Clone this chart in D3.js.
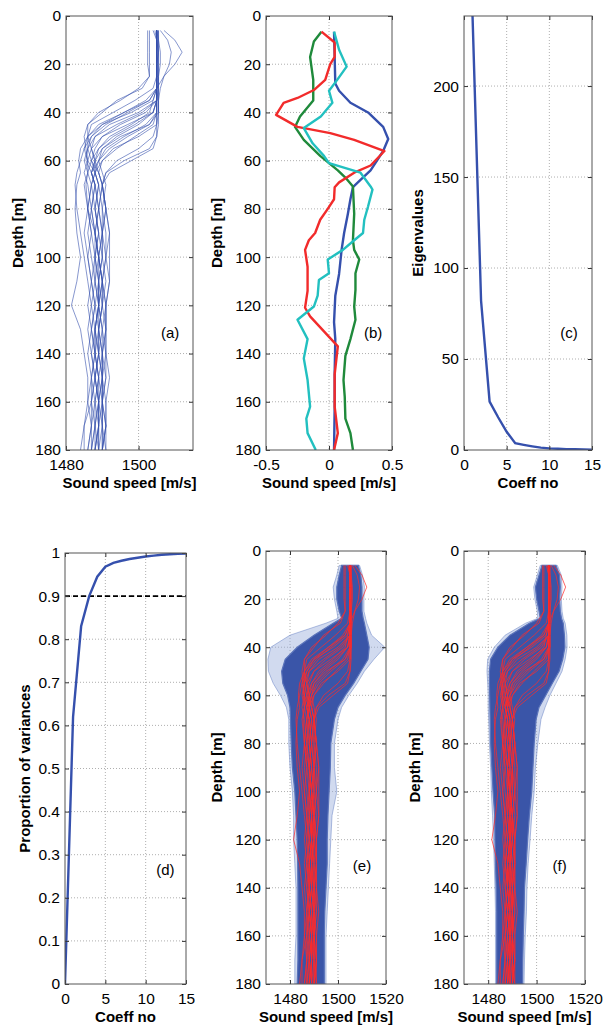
<!DOCTYPE html>
<html>
<head>
<meta charset="utf-8">
<title>Sound speed profiles, EOFs and eigenvalues</title>
<script src="https://cdn.jsdelivr.net/npm/d3@7"></script>
<style>
  body { margin: 0; background: #fff; }
  svg text { font-family: "Liberation Sans", Arial, sans-serif; fill: #000; }
</style>
</head>
<body>
<script>
// ---- data ----
// (a) measured profiles, speed [m/s] at depthA
var depthA = [6,10,15,20,25,30,35,40,45,50,55,60,65,70,80,90,100,110,120,130,140,150,160,170,180];
var profilesA = [
  [1503,1503,1503,1503,1503,1501,1494,1490,1486,1485,1485.5,1486,1485,1486,1487,1486,1487,1488,1487,1488,1487,1488,1487,1488,1487],
  [1505,1505,1505,1505,1505,1504,1499,1493,1487,1486,1486,1485.5,1487,1488,1489,1488,1489,1489,1488,1489,1489,1488,1489,1489,1488],
  [1507,1510,1512,1510,1507,1505,1505,1504,1497,1490,1488,1487,1489,1490,1491,1490,1491,1490,1491,1490,1491,1491,1490,1491,1490],
  [1505,1505,1505.5,1505,1505,1505,1505,1500,1492,1488,1487,1488,1487,1488,1487,1488,1489,1488,1489,1488,1489,1488,1489,1488,1489],
  [1505,1505,1505,1505,1505,1505,1505,1505,1503,1495,1490,1488,1489,1490,1489,1490,1489,1490,1490,1489,1490,1490,1489,1490,1490],
  [1505.5,1505.5,1505.5,1505.5,1505.5,1505.5,1505.5,1505.5,1505.5,1505,1503,1496,1491,1490,1491,1490,1490,1491,1490,1491,1491,1490,1491,1491,1490],
  [1505,1505,1505,1505,1505,1505,1504,1498,1490,1486,1484,1483.5,1484,1483,1482.5,1483,1484,1483,1481.5,1484,1485,1486,1486,1485,1485],
  [1505,1505,1505,1505,1505,1505,1503,1496,1489,1486,1485,1486,1488,1487,1486,1485,1486,1487,1488,1487,1488,1487,1488,1488,1487],
  [1504.5,1505,1505,1505,1505,1505,1505,1502,1495,1490,1487,1486,1486,1487,1488,1489,1488,1488,1489,1488,1488,1489,1488,1489,1488],
  [1505,1505,1505,1505,1505,1505,1505,1504,1499,1493,1489,1487,1486,1485,1486,1487,1488,1489,1490,1489,1490,1490,1490,1490,1490],
  [1505.5,1505.5,1505.5,1505.5,1505.5,1505.5,1505,1505,1504,1499,1494,1490,1488,1489,1488,1489,1488,1489,1489,1488,1489,1488,1489,1489,1488],
  [1505,1505,1505,1505,1505,1505,1504,1503,1498,1492,1489,1488,1488,1489,1490,1491,1491,1492,1491,1491,1491,1492,1491,1491,1491],
  [1504,1505,1505,1505,1505,1505,1505,1505,1505,1505,1504,1498,1492,1490,1491,1492,1492,1492,1491,1491,1490,1490,1490,1491,1490],
  [1506,1508,1509,1508.5,1507,1506,1505.5,1505.5,1503,1497,1492,1489,1487,1488,1489,1488,1489,1490,1489,1489,1488,1489,1489,1488,1488],
  [1505,1505,1505,1505,1505,1505,1505,1501,1494,1488,1486,1485,1486,1485.5,1486,1487,1486,1487,1486,1487,1486,1487,1486,1487,1486],
  [1505,1505,1505,1505,1505,1505,1505,1505,1502,1496,1491,1489,1488,1487,1486,1488,1489,1490,1489,1490,1489,1490,1490,1489,1489],
  [1505,1505,1505,1505,1505,1505,1503,1497,1491,1487,1485,1484,1483,1482.5,1483,1484,1485,1486,1487,1486,1487,1488,1487,1487,1486],
  [1505,1505,1505,1505,1505,1505,1505,1505,1505,1504,1500,1494,1491,1490,1491,1492,1491,1490,1491,1491,1490,1491,1490,1490,1491],
  [1502.5,1502.5,1502.5,1502.5,1503,1500,1495,1489,1486,1486,1487,1488,1487,1488,1487,1488,1488,1487,1488,1487,1488,1487,1487,1485,1484],
  [1505,1505,1505,1505,1505,1505,1505,1504,1500,1494,1490,1489,1490,1491,1490,1490,1489,1490,1490,1489,1489,1490,1489,1489,1489],
  [1505,1505.5,1506,1506,1505.5,1505.5,1505.5,1505.5,1505,1500,1493,1490,1489,1490,1489,1490,1490,1489,1489,1490,1490,1489,1490,1490,1489],
  [1505,1505,1505,1505,1505,1505,1502,1496,1490,1487,1486,1487,1488,1489,1488,1489,1490,1489,1489,1488,1488,1489,1488,1487,1487]
];

// (b) first four EOFs, [depth, value]
var eof1 = [[6.5,0.04],[28,0.05],[31,0.08],[36,0.17],[40,0.31],[46,0.43],[51,0.47],[56,0.43],[64,0.33],[68,0.25],[71,0.19],[76,0.17],[82,0.15],[90,0.12],[97,0.1],[107,0.08],[116,0.05],[127,0.04],[134,0.05],[148,0.045],[162,0.045],[180,0.04]];
var eof2 = [[6.5,-0.06],[11,0.045],[17,0.045],[20,0.01],[26.5,-0.03],[30.7,-0.12],[34,-0.25],[36,-0.36],[41,-0.42],[46,-0.25],[48.6,0.01],[51.4,0.2],[56,0.44],[62,0.33],[65,0.2],[69,0.08],[71,0.045],[76,0.04],[80,-0.01],[84.5,-0.07],[90,-0.11],[93,-0.16],[97,-0.19],[104,-0.17],[114,-0.17],[121,-0.19],[124.6,-0.15],[130.8,-0.04],[137,0.07],[148.6,0.045],[162,0.045],[173,0.07],[180,0.04]];
var eof3 = [[6.5,-0.06],[10.6,-0.12],[17,-0.15],[26.5,-0.125],[35,-0.125],[41.7,-0.23],[46,-0.27],[51.4,-0.2],[58,-0.07],[64,0.07],[67,0.13],[70.7,0.19],[82,0.2],[93,0.19],[97,0.2],[101,0.24],[106.7,0.21],[113.6,0.21],[120.5,0.2],[126,0.21],[134,0.17],[141,0.13],[151,0.115],[158,0.125],[167,0.13],[173,0.17],[180,0.19]];
var eof4 = [[6.5,0.04],[14,0.08],[21,0.14],[26.5,0.065],[31,0.0],[36,0.027],[41.7,-0.065],[46.5,-0.2],[52.8,-0.13],[58,-0.04],[61,0.0],[65,0.25],[70.7,0.33],[72,0.345],[79,0.31],[84.5,0.28],[90,0.27],[93,0.2],[97,0.11],[101,-0.01],[106.7,0.0],[109.5,-0.08],[116,-0.09],[120.5,-0.12],[126,-0.25],[134,-0.17],[142,-0.2],[151,-0.17],[162,-0.15],[167,-0.18],[173,-0.17],[180,-0.105]];
var eofColors = ["#3550ad", "#1f8a3b", "#f22b2b", "#22c0c0"];

// (c) eigenvalues, (d) cumulative proportion
var coeffC = [1,2,3,4,5,6,7,8,9,10,11,12,13,14,15];
var eigenvalues = [238.5,82,26.6,18,10,3.7,2.8,2.0,1.3,0.9,0.7,0.5,0.4,0.3,0.2];
var coeffD = [0,1,2,3,4,5,6,7,8,9,10,11,12,13,14,15];
var cumVariance = [0,0.62,0.83,0.9,0.945,0.968,0.977,0.982,0.986,0.989,0.992,0.994,0.996,0.997,0.998,0.999];
var threshold = 0.9;

// (e),(f) simulated ensembles: envelope of the dense band
var envDepth = [6,10,15,20,25,28,30,35,40,45,50,55,60,65,70,80,90,100,110,120,130,140,150,160,170,180];
var eOuterL = [1500.5,1499.5,1498,1498.5,1499.5,1500,1495,1480,1472,1470.8,1471,1473,1476,1478.5,1479.5,1479.5,1480,1481,1481.5,1481.5,1482,1482.5,1482.5,1482.5,1482,1482];
var eInnerL = [1501.5,1500.5,1499.5,1499.5,1500.5,1501.5,1498,1490,1483,1478,1476.5,1477,1479,1480,1480.2,1480.5,1481,1482,1482.5,1483,1483.2,1483.3,1483.3,1483.3,1483.3,1483];
var eInnerR = [1508.5,1509.5,1510,1510,1510,1510.5,1511,1512,1513,1512.5,1509.5,1506.5,1503,1500,1498.5,1497,1496.8,1496.3,1495.8,1495.5,1495.5,1495,1494.5,1494.3,1494.3,1494.3];
var eOuterR = [1509,1510.2,1511,1510.8,1510.8,1511.5,1512,1514,1519.5,1515,1511,1508,1504.5,1501.5,1500,1498.5,1498.5,1499.5,1497.5,1497,1496.5,1496,1495.5,1495,1495,1495];
var fOuterL = [1501.5,1500.3,1498.8,1499.3,1500.3,1500.5,1495.5,1487,1482.5,1479.8,1479.5,1479.8,1480,1480,1480.2,1480.5,1481,1481.3,1481.8,1482.2,1482.5,1482.8,1483,1483,1483,1483];
var fInnerL = [1502.2,1501,1499.5,1500,1501,1501.5,1497,1489,1484,1481,1480.5,1480.5,1480.6,1480.7,1480.8,1481,1481.5,1482,1482.7,1482.8,1483,1483.3,1483.5,1483.5,1483.5,1483.5];
var fInnerR = [1508,1509.5,1509.8,1509.5,1509.8,1510.3,1511,1511.5,1511.7,1510.8,1509.3,1506.5,1503.8,1501,1499.8,1499,1498.5,1498,1497,1496.3,1495.7,1495,1494.8,1494.5,1494.3,1494.2];
var fOuterR = [1508.6,1510.2,1510.5,1510.2,1510.5,1511,1511.8,1512.5,1512.6,1511.8,1510.5,1508,1505.5,1503.5,1501.8,1500.5,1499.5,1499,1498,1497.3,1496.5,1496,1495.8,1495.3,1495,1494.8];

var depthTicks = d3.range(0, 181, 20);

// ---- drawing ----
var W = 603, H = 1028;
var svg = d3.select("body").append("svg").attr("width", W).attr("height", H);
svg.append("rect").attr("width", W).attr("height", H).attr("fill", "#fff");

function panel(id, c) {
  var x = d3.scaleLinear().domain(c.xd).range([c.x0, c.x1]);
  var y = d3.scaleLinear().domain(c.yd).range(c.down ? [c.y0, c.y1] : [c.y1, c.y0]);
  var g = svg.append("g").attr("class", "panel-" + id);

  svg.append("clipPath").attr("id", "clip-" + id).append("rect")
    .attr("x", c.x0).attr("y", c.y0).attr("width", c.x1 - c.x0).attr("height", c.y1 - c.y0);

  // dotted grid
  g.selectAll(".vg").data(c.xt.filter(function(v){ return x(v) > c.x0 + 1 && x(v) < c.x1 - 1; }))
    .join("line").attr("x1", x).attr("x2", x).attr("y1", c.y0).attr("y2", c.y1)
    .attr("stroke", "#9a9a9a").attr("stroke-width", 0.8).attr("stroke-dasharray", "1,2");
  g.selectAll(".hg").data(c.yt.filter(function(v){ return y(v) > c.y0 + 1 && y(v) < c.y1 - 1; }))
    .join("line").attr("y1", y).attr("y2", y).attr("x1", c.x0).attr("x2", c.x1)
    .attr("stroke", "#9a9a9a").attr("stroke-width", 0.8).attr("stroke-dasharray", "1,2");

  var plot = g.append("g").attr("clip-path", "url(#clip-" + id + ")");

  function finish() {
    var fmtX = c.fx || function(d){ return d; };
    var fmtY = c.fy || function(d){ return d; };
    var ax = [
      g.append("g").attr("transform", "translate(0," + c.y1 + ")")
        .call(d3.axisBottom(x).tickValues(c.xt).tickSize(-4).tickPadding(9).tickFormat(fmtX)),
      g.append("g").attr("transform", "translate(" + c.x0 + ",0)")
        .call(d3.axisLeft(y).tickValues(c.yt).tickSize(-4).tickPadding(5).tickFormat(fmtY)),
      g.append("g").attr("transform", "translate(0," + c.y0 + ")")
        .call(d3.axisTop(x).tickValues(c.xt).tickSize(-4).tickFormat("")),
      g.append("g").attr("transform", "translate(" + c.x1 + ",0)")
        .call(d3.axisRight(y).tickValues(c.yt).tickSize(-4).tickFormat(""))
    ];
    ax.forEach(function(a){
      a.select(".domain").remove();
      a.selectAll(".tick line").attr("stroke", "#333");
      a.selectAll("text").attr("font-size", 15.5).attr("font-family", "Liberation Sans, Arial, sans-serif");
    });
    g.append("rect").attr("x", c.x0).attr("y", c.y0)
      .attr("width", c.x1 - c.x0).attr("height", c.y1 - c.y0)
      .attr("fill", "none").attr("stroke", "#555").attr("stroke-width", 1);

    g.append("text").attr("x", (c.x0 + c.x1) / 2).attr("y", c.y1 + 38)
      .attr("text-anchor", "middle").attr("font-size", 15).attr("font-weight", "bold").text(c.xl);
    var cy = (c.y0 + c.y1) / 2, lx = c.x0 - c.ylOff;
    g.append("text").attr("transform", "translate(" + lx + "," + cy + ") rotate(-90)")
      .attr("text-anchor", "middle").attr("font-size", 15).attr("font-weight", "bold").text(c.yl);
    g.append("text").attr("x", c.x0 + c.tag[0] * (c.x1 - c.x0)).attr("y", c.y0 + c.tag[1] * (c.y1 - c.y0) + 5)
      .attr("text-anchor", "middle").attr("font-size", 15).text(c.tagText);
  }
  return { x: x, y: y, plot: plot, finish: finish };
}

function profileLine(p) {
  return d3.line().x(function(d){ return p.x(d[1]); }).y(function(d){ return p.y(d[0]); });
}
function zipDepth(depths, vals) {
  return depths.map(function(d, i){ return [d, vals[i]]; });
}

// (a)
var pa = panel("a", { x0: 66, x1: 193, y0: 16, y1: 450, xd: [1480, 1515], yd: [0, 180], down: true,
  xt: [1480, 1500], yt: depthTicks, xl: "Sound speed [m/s]", yl: "Depth [m]", ylOff: 43,
  tag: [0.82, 0.73], tagText: "(a)" });
pa.plot.selectAll("path").data(profilesA).join("path")
  .attr("d", function(p){ return profileLine(pa)(zipDepth(depthA, p)); })
  .attr("fill", "none").attr("stroke", "#3550ad").attr("stroke-width", 0.7).attr("stroke-opacity", 0.85);
pa.finish();

// (b)
var pb = panel("b", { x0: 266, x1: 392, y0: 16, y1: 450, xd: [-0.5, 0.5], yd: [0, 180], down: true,
  xt: [-0.5, 0, 0.5], yt: depthTicks, xl: "Sound speed [m/s]", yl: "Depth [m]", ylOff: 44,
  tag: [0.85, 0.73], tagText: "(b)" });
// MATLAB colour order: blue, green, red, cyan
pb.plot.selectAll("path").data([eof1, eof3, eof2, eof4]).join("path")
  .attr("d", function(e){ return profileLine(pb)(e); })
  .attr("fill", "none").attr("stroke-width", 2.4).attr("stroke-linejoin", "round")
  .attr("stroke", function(e, i){ return [eofColors[0], eofColors[1], eofColors[2], eofColors[3]][i]; });
pb.finish();

// (c)
var pc = panel("c", { x0: 464, x1: 592, y0: 16, y1: 450, xd: [0, 15], yd: [0, 238.5],
  xt: [0, 5, 10, 15], yt: [0, 50, 100, 150, 200], xl: "Coeff no", yl: "Eigenvalues", ylOff: 41,
  tag: [0.82, 0.73], tagText: "(c)" });
pc.plot.append("path")
  .attr("d", d3.line().x(function(d, i){ return pc.x(coeffC[i]); }).y(function(d){ return pc.y(d); })(eigenvalues))
  .attr("fill", "none").attr("stroke", "#3550ad").attr("stroke-width", 2.4);
pc.finish();

// (d)
var pd = panel("d", { x0: 65, x1: 186, y0: 553, y1: 984, xd: [0, 15], yd: [0, 1],
  xt: [0, 5, 10, 15], yt: d3.range(0, 11).map(function(i){ return i / 10; }),
  fy: function(d){ return String(+d.toFixed(1)); },
  xl: "Coeff no", yl: "Proportion of variances", ylOff: 35,
  tag: [0.83, 0.735], tagText: "(d)" });
pd.plot.append("line").attr("x1", pd.x(0)).attr("x2", pd.x(15))
  .attr("y1", pd.y(threshold)).attr("y2", pd.y(threshold))
  .attr("stroke", "#000").attr("stroke-width", 1.6).attr("stroke-dasharray", "5,3");
pd.plot.append("path")
  .attr("d", d3.line().x(function(d, i){ return pd.x(coeffD[i]); }).y(function(d){ return pd.y(d); })(cumVariance))
  .attr("fill", "none").attr("stroke", "#3550ad").attr("stroke-width", 2.4);
pd.finish();

// (e), (f)
function ensemble(id, x0, x1, outerL, innerL, innerR, outerR, tag) {
  var p = panel(id, { x0: x0, x1: x1, y0: 551, y1: 984, xd: [1470, 1520], yd: [0, 180], down: true,
    xt: [1480, 1500, 1520], yt: depthTicks, xl: "Sound speed [m/s]", yl: "Depth [m]", ylOff: 44,
    tag: tag, tagText: "(" + id + ")" });
  var rows = envDepth.map(function(d, i){ return { d: d, ol: outerL[i], il: innerL[i], ir: innerR[i], or: outerR[i] }; });
  var areaOuter = d3.area()
    .y(function(r){ return p.y(r.d); }).x0(function(r){ return p.x(r.ol); }).x1(function(r){ return p.x(r.or); });
  var areaInner = d3.area()
    .y(function(r){ return p.y(r.d); }).x0(function(r){ return p.x(r.il); }).x1(function(r){ return p.x(r.ir); });
  p.plot.append("path").attr("d", areaOuter(rows)).attr("fill", "#9aacdc").attr("fill-opacity", 0.45)
    .attr("stroke", "#7088c8").attr("stroke-width", 0.7).attr("stroke-opacity", 0.8);
  p.plot.append("path").attr("d", areaInner(rows)).attr("fill", "#3a55a8")
    .attr("stroke", "#5a73ba").attr("stroke-width", 1.2);
  p.plot.selectAll(".red").data(profilesA).join("path")
    .attr("d", function(pr){ return profileLine(p)(zipDepth(depthA, pr)); })
    .attr("fill", "none").attr("stroke", "#ff2a2a").attr("stroke-width", 0.8).attr("stroke-opacity", 0.9);
  p.finish();
}
ensemble("e", 266, 386, eOuterL, eInnerL, eInnerR, eOuterR, [0.8, 0.727]);
ensemble("f", 464, 585, fOuterL, fInnerL, fInnerR, fOuterR, [0.79, 0.727]);
</script>
</body>
</html>
